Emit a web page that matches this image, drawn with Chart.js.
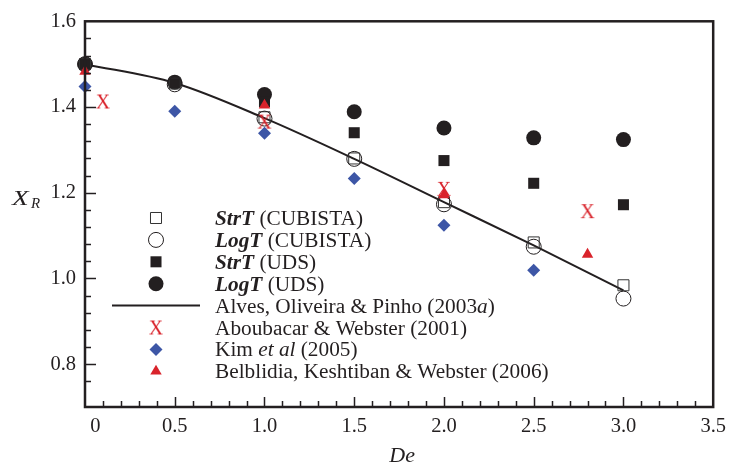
<!DOCTYPE html>
<html>
<head>
<meta charset="utf-8">
<script src="https://cdn.jsdelivr.net/npm/chart.js@4/dist/chart.umd.min.js"></script>
<style>
  html, body { margin: 0; padding: 0; background: #fff; }
  canvas { display: block; }
</style>
</head>
<body>
<canvas id="chart" width="733" height="465"></canvas>
<script>
const serif = '"Liberation Serif", "Times New Roman", serif';
const ink = '#231f20';
const red = '#d9232b';
const blue = '#3d56a6';

// present simulations, De = 0 .. 3
const deSim = [0, 0.5, 1.0, 1.5, 2.0, 2.5, 3.0];
const strtCubista = [1.500, 1.455, 1.376, 1.280, 1.178, 1.084, 0.984];
const logtCubista = [1.500, 1.453, 1.373, 1.279, 1.173, 1.074, 0.953];
const strtUds = [1.500, 1.457, 1.412, 1.340, 1.275, 1.222, 1.172];
const logtUds = [1.500, 1.458, 1.429, 1.389, 1.351, 1.328, 1.324];

// Alves, Oliveira & Pinho (2003a)
const alvesDe = [0, 0.5, 1.0, 1.5, 2.0, 2.5, 3.0];
const alvesXr = [1.500, 1.456, 1.374, 1.279, 1.178, 1.077, 0.972];

// Aboubacar & Webster (2001)
const abouDe = [0.1, 1.0, 2.0, 2.8];
const abouXr = [1.413, 1.366, 1.209, 1.157];

// Kim et al (2005)
const kimDe = [0, 0.5, 1.0, 1.5, 2.0, 2.5];
const kimXr = [1.448, 1.390, 1.339, 1.233, 1.124, 1.019];

// Belblidia, Keshtiban & Webster (2006)
const belDe = [0, 1.0, 2.0, 2.8];
const belXr = [1.483, 1.404, 1.195, 1.056];

// labelled ticks
const xLabelled = [0, 0.5, 1.0, 1.5, 2.0, 2.5, 3.0, 3.5];
const yLabelled = [0.8, 1.0, 1.2, 1.4, 1.6];

const pts = (xs, ys) => xs.map((x, i) => ({ x: x, y: ys[i] }));
const isIn = (v, list) => list.some(t => Math.abs(t - v) < 1e-6);

// the red "X" marker is a serif letter
function letterX() {
  const c = document.createElement('canvas');
  c.width = 18; c.height = 18;
  const g = c.getContext('2d');
  g.fillStyle = red;
  g.font = '20px ' + serif;
  g.textAlign = 'center';
  g.textBaseline = 'alphabetic';
  g.fillText('X', 9, 16);
  return c;
}
const xMark = letterX();

const datasets = [
  { label: 'Alves', data: pts(alvesDe, alvesXr), showLine: true, borderColor: ink, borderWidth: 2,
    pointRadius: 0, cubicInterpolationMode: 'monotone', order: 10 },
  { label: 'LogT UDS', data: pts(deSim, logtUds), pointStyle: 'circle', pointRadius: 7.5,
    backgroundColor: ink, borderColor: ink, borderWidth: 0, order: 9 },
  { label: 'StrT UDS', data: pts(deSim, strtUds), pointStyle: 'rect', pointRadius: 7.8,
    backgroundColor: ink, borderColor: ink, borderWidth: 0, order: 8 },
  { label: 'StrT CUBISTA', data: pts(deSim, strtCubista), pointStyle: 'rect', pointRadius: 7.8,
    backgroundColor: 'rgba(255,255,255,0)', borderColor: '#333', borderWidth: 1, order: 7 },
  { label: 'LogT CUBISTA', data: pts(deSim, logtCubista), pointStyle: 'circle', pointRadius: 7.5,
    backgroundColor: 'rgba(255,255,255,0)', borderColor: ink, borderWidth: 1, order: 6 },
  { label: 'Aboubacar', data: pts(abouDe, abouXr), pointStyle: xMark, pointRadius: 8, order: 5 },
  { label: 'Kim', data: pts(kimDe, kimXr), pointStyle: 'rectRot', pointRadius: 6.5,
    backgroundColor: blue, borderColor: blue, borderWidth: 0, order: 4 },
  { label: 'Belblidia', data: pts(belDe, belXr), pointStyle: 'triangle', pointRadius: 6.6,
    backgroundColor: red, borderColor: red, borderWidth: 0, order: 3 }
];
datasets.forEach(d => { d.clip = false; d.pointHoverRadius = d.pointRadius; });

// legend rows: dataset label + text runs
const legendRows = [
  { ds: 'StrT CUBISTA', runs: [['StrT', 'bold italic'], [' (CUBISTA)', '']] },
  { ds: 'LogT CUBISTA', runs: [['LogT', 'bold italic'], [' (CUBISTA)', '']] },
  { ds: 'StrT UDS', runs: [['StrT', 'bold italic'], [' (UDS)', '']] },
  { ds: 'LogT UDS', runs: [['LogT', 'bold italic'], [' (UDS)', '']] },
  { ds: 'Alves', runs: [['Alves, Oliveira & Pinho (2003', ''], ['a', 'italic'], [')', '']] },
  { ds: 'Aboubacar', runs: [['Aboubacar & Webster (2001)', '']] },
  { ds: 'Kim', runs: [['Kim ', ''], ['et al', 'italic'], [' (2005)', '']] },
  { ds: 'Belblidia', runs: [['Belblidia, Keshtiban & Webster (2006)', '']] }
];

const decor = {
  id: 'decor',
  afterDatasetsDraw(chart) {
    const ctx = chart.ctx;
    const a = chart.chartArea;
    const xs = chart.scales.x, ys = chart.scales.y;
    ctx.save();
    ctx.strokeStyle = ink;
    ctx.lineWidth = 1.5;
    // inward ticks on bottom and left
    xs.ticks.forEach(t => {
      if (t.value <= xs.min + 1e-6 || t.value >= xs.max - 1e-6) return;
      const px = Math.round(xs.getPixelForValue(t.value)) + 0.5;
      const len = isIn(t.value, xLabelled) ? 10 : 6;
      ctx.beginPath(); ctx.moveTo(px, a.bottom); ctx.lineTo(px, a.bottom - len); ctx.stroke();
    });
    ys.ticks.forEach(t => {
      if (t.value <= ys.min + 1e-6 || t.value >= ys.max - 1e-6) return;
      const py = Math.round(ys.getPixelForValue(t.value)) + 0.5;
      const len = isIn(t.value, yLabelled) ? 11 : 6;
      ctx.beginPath(); ctx.moveTo(a.left, py); ctx.lineTo(a.left + len, py); ctx.stroke();
    });
    // frame
    ctx.lineWidth = 2.5;
    ctx.strokeRect(a.left, a.top, a.right - a.left, a.bottom - a.top);

    // axis titles
    ctx.fillStyle = ink;
    ctx.textAlign = 'left';
    ctx.textBaseline = 'alphabetic';
    ctx.save();
    ctx.translate(12, 205);
    ctx.scale(1.3, 1);
    ctx.font = 'italic 21px ' + serif;
    ctx.fillText('X', 0, 0);
    ctx.restore();
    ctx.font = 'italic 15px ' + serif;
    ctx.fillText('R', 31, 208);
    ctx.font = 'italic 22px ' + serif;
    ctx.textAlign = 'center';
    ctx.fillText('De', (a.left + a.right) / 2 + 3, 462);

    // legend
    const markX = 156, textX = 215;
    legendRows.forEach((row, i) => {
      const cy = 218 + i * 21.9;
      const ds = chart.data.datasets.find(d => d.label === row.ds);
      if (ds.showLine) {
        ctx.strokeStyle = ds.borderColor;
        ctx.lineWidth = ds.borderWidth;
        ctx.beginPath(); ctx.moveTo(112, cy); ctx.lineTo(200, cy); ctx.stroke();
      } else {
        ctx.fillStyle = ds.backgroundColor || ink;
        ctx.strokeStyle = ds.borderColor || ink;
        ctx.lineWidth = ds.borderWidth || 0;
        Chart.helpers.drawPoint(ctx, { pointStyle: ds.pointStyle, rotation: 0,
          radius: ds.pointRadius, borderWidth: ds.borderWidth || 0 }, markX, cy);
      }
      let x = textX;
      ctx.fillStyle = ink;
      ctx.textAlign = 'left';
      row.runs.forEach(([txt, style]) => {
        ctx.font = (style ? style + ' ' : '') + '21.3px ' + serif;
        ctx.fillText(txt, x, cy + 7);
        x += ctx.measureText(txt).width;
      });
    });
    ctx.restore();
  }
};

new Chart(document.getElementById('chart'), {
  type: 'scatter',
  data: { datasets: datasets },
  options: {
    responsive: false,
    animation: false,
    devicePixelRatio: 1,
    layout: { padding: { top: 16, right: 14, left: 0, bottom: 0 } },
    plugins: { legend: { display: false }, tooltip: { enabled: false } },
    scales: {
      x: {
        type: 'linear', min: 0, max: 3.5,
        afterFit: s => { s.height = 58; },
        grid: { display: false, drawTicks: false },
        border: { display: false },
        ticks: {
          stepSize: 0.1, autoSkip: false, maxRotation: 0, padding: 7,
          color: ink, font: { family: serif, size: 20.5 },
          callback: v => !isIn(v, xLabelled) ? '' : (Math.abs(v) < 1e-6 ? '    0' : v.toFixed(1))
        }
      },
      y: {
        type: 'linear', min: 0.7, max: 1.6,
        afterFit: s => { s.width = 85; },
        grid: { display: false, drawTicks: false },
        border: { display: false },
        ticks: {
          stepSize: 0.04, autoSkip: false, padding: 9,
          color: ink, font: { family: serif, size: 20.5 },
          callback: v => isIn(v, yLabelled) ? v.toFixed(1) : ''
        }
      }
    }
  },
  plugins: [decor]
});
</script>
</body>
</html>
